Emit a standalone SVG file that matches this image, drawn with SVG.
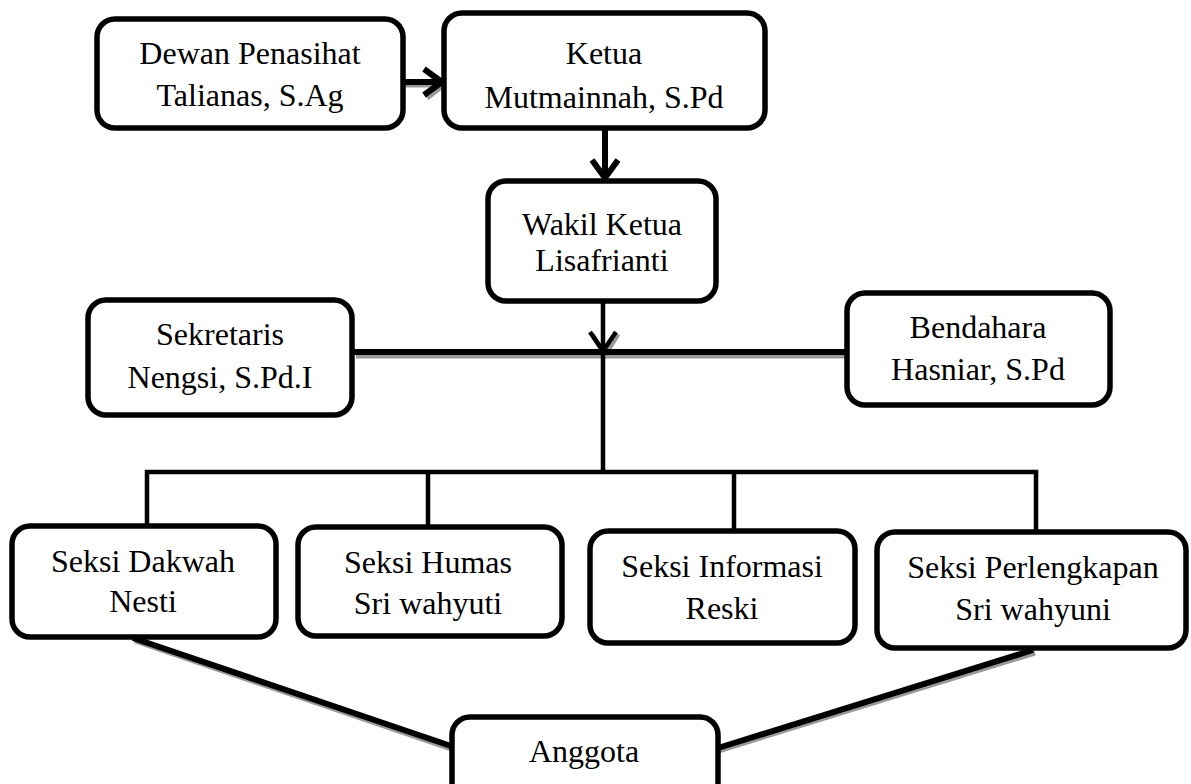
<svg xmlns="http://www.w3.org/2000/svg" width="1191" height="784" viewBox="0 0 1191 784">
<style>
.box{fill:#fff;stroke:#000;stroke-width:5.5}
.ln{fill:none;stroke:#000;stroke-width:4.5;stroke-linecap:butt}
.thick{stroke-width:6}
.sh{fill:none;stroke:#999;stroke-width:5}
.t{font-family:"Liberation Serif","Times New Roman",serif;font-size:32px;fill:#000;text-anchor:middle}
</style>
<rect width="1191" height="784" fill="#fff"/>
<g id="connectors">
  <line class="sh" x1="405" y1="85" x2="440" y2="85"/>
  <polyline class="sh" points="427,72 444,85 427,98"/>
  <line class="sh" x1="356" y1="356" x2="845" y2="356"/>
  <polyline class="sh" points="592,334 605,355 618,334"/>
  <line class="sh" x1="135" y1="641" x2="451" y2="749"/>
  <line class="sh" x1="1035" y1="653" x2="718" y2="751"/>
  <line class="ln thick" x1="403" y1="82" x2="442" y2="82"/>
  <polyline class="ln thick" points="424,69 442,82 424,95"/>
  <line class="ln thick" x1="605" y1="128" x2="605" y2="178"/>
  <polyline class="ln thick" points="592,160 605,178 618,160"/>
  <line class="ln" x1="603" y1="302" x2="603" y2="472"/>
  <polyline class="ln" points="590,332 603,351 616,332"/>
  <line class="ln thick" x1="354" y1="352" x2="847" y2="352"/>
  <polyline class="ln" points="147,526 147,472 1036,472 1036,532"/>
  <line class="ln" x1="428" y1="472" x2="428" y2="527"/>
  <line class="ln" x1="734" y1="472" x2="734" y2="531"/>
  <line class="ln thick" x1="133" y1="638" x2="451" y2="746"/>
  <line class="ln thick" x1="1033" y1="650" x2="718" y2="748"/>
</g>
<g id="dewan">
  <rect class="box" x="97" y="19" width="306" height="109" rx="18"/>
  <text class="t" x="250" y="64">Dewan Penasihat</text>
  <text class="t" x="250" y="106">Talianas, S.Ag</text>
</g>
<g id="ketua">
  <rect class="box" x="444" y="13" width="321" height="115" rx="18"/>
  <text class="t" x="604" y="64">Ketua</text>
  <text class="t" x="604" y="108">Mutmainnah, S.Pd</text>
</g>
<g id="wakil">
  <rect class="box" x="488" y="181" width="228" height="120" rx="18"/>
  <text class="t" x="602" y="235">Wakil Ketua</text>
  <text class="t" x="602" y="271">Lisafrianti</text>
</g>
<g id="sekretaris">
  <rect class="box" x="88" y="300" width="264" height="115" rx="18"/>
  <text class="t" x="220" y="345">Sekretaris</text>
  <text class="t" x="220" y="388">Nengsi, S.Pd.I</text>
</g>
<g id="bendahara">
  <rect class="box" x="847" y="293" width="263" height="112" rx="18"/>
  <text class="t" x="978" y="338">Bendahara</text>
  <text class="t" x="978" y="380">Hasniar, S.Pd</text>
</g>
<g id="dakwah">
  <rect class="box" x="12" y="526" width="264" height="111" rx="18"/>
  <text class="t" x="143" y="572">Seksi Dakwah</text>
  <text class="t" x="143" y="612">Nesti</text>
</g>
<g id="humas">
  <rect class="box" x="298" y="527" width="264" height="109" rx="18"/>
  <text class="t" x="428" y="573">Seksi Humas</text>
  <text class="t" x="428" y="614">Sri wahyuti</text>
</g>
<g id="informasi">
  <rect class="box" x="590" y="531" width="265" height="112" rx="18"/>
  <text class="t" x="722" y="577">Seksi Informasi</text>
  <text class="t" x="722" y="619">Reski</text>
</g>
<g id="perlengkapan">
  <rect class="box" x="877" y="532" width="309" height="116" rx="18"/>
  <text class="t" x="1033" y="578">Seksi Perlengkapan</text>
  <text class="t" x="1033" y="620">Sri wahyuni</text>
</g>
<g id="anggota">
  <rect class="box" x="452" y="717" width="266" height="100" rx="18"/>
  <text class="t" x="584" y="762">Anggota</text>
</g>
</svg>
